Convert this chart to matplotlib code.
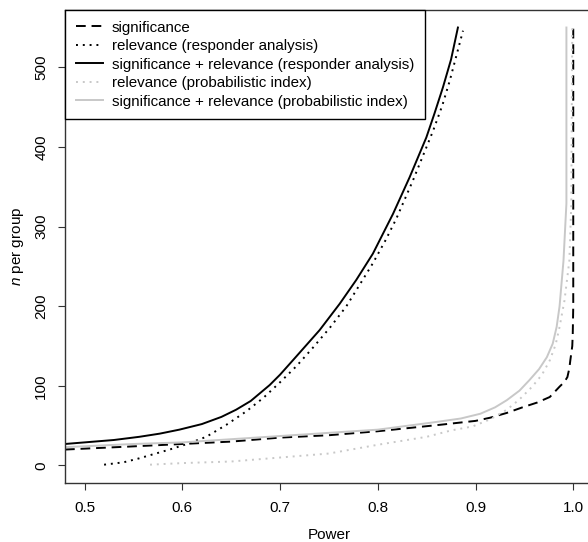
import matplotlib
matplotlib.use("Agg")
import matplotlib.pyplot as plt

plt.rcParams['font.family'] = ['Liberation Sans', 'DejaVu Sans']
plt.rcParams['mathtext.fontset'] = 'custom'
plt.rcParams['mathtext.it'] = 'Liberation Sans:italic'
plt.rcParams['mathtext.rm'] = 'Liberation Sans'

# significance
sig_x = [0.48, 0.55, 0.60, 0.65, 0.70, 0.75, 0.80, 0.863, 0.90, 0.915, 0.932, 0.948, 0.963,
         0.976, 0.986, 0.991, 0.994, 0.996, 0.997, 0.999, 0.9995, 1.0, 1.0]
sig_n = [20, 24, 27, 30, 35, 38, 43, 51, 56, 60, 66, 73, 79,
         86, 99, 105, 111, 122, 132, 150, 166, 200, 550]

# relevance (responder analysis)
rel_resp_x = [0.52, 0.54, 0.556, 0.57, 0.587, 0.605, 0.6245, 0.645, 0.6655, 0.683, 0.6996,
              0.717, 0.7337, 0.751, 0.7679, 0.782, 0.795, 0.808, 0.819, 0.836, 0.8565,
              0.866, 0.8736, 0.8872]
rel_resp_n = [1, 4, 9, 14, 20, 27, 36, 51, 68, 85, 104,
              125, 148, 173, 200, 228, 254, 283, 310, 358, 420,
              452, 483, 546]

# significance + relevance (responder analysis)
both_resp_x = [0.48, 0.50, 0.53, 0.556, 0.577, 0.597, 0.62, 0.64, 0.655, 0.67, 0.6894,
               0.70, 0.7167, 0.7405, 0.761, 0.778, 0.795, 0.8156, 0.8326, 0.8497, 0.858,
               0.8667, 0.875, 0.882]
both_resp_n = [27, 29, 32, 36, 40, 45, 52, 61, 70, 81, 101,
               114, 137, 170, 203, 233, 266, 316, 362, 412, 442,
               475, 510, 550]

# relevance (probabilistic index)
rel_prob_x = [0.567, 0.60, 0.65, 0.70, 0.75, 0.80, 0.85, 0.875, 0.897, 0.915, 0.932, 0.945,
              0.958, 0.968, 0.976, 0.982, 0.986, 0.991, 0.996, 0.998, 0.999]
rel_prob_n = [1, 3, 5, 10, 15, 26, 36, 44, 49, 58, 70, 83,
              99, 114, 132, 152, 174, 207, 257, 329, 550]

# significance + relevance (probabilistic index)
both_prob_x = [0.48, 0.55, 0.60, 0.65, 0.70, 0.75, 0.80, 0.856, 0.885, 0.905, 0.92, 0.932,
               0.945, 0.955, 0.965, 0.973, 0.979, 0.983, 0.986, 0.99, 0.993, 0.993]
both_prob_n = [23, 27, 29, 33, 37, 41, 45, 54, 59, 65, 73, 82,
               94, 107, 121, 136, 153, 174, 200, 257, 329, 550]

labels = ['significance',
          'relevance (responder analysis)',
          'significance + relevance (responder analysis)',
          'relevance (probabilistic index)',
          'significance + relevance (probabilistic index)']

grey = '#c8c8c8'

fig = plt.figure(figsize=(5.88, 5.42), dpi=100)
ax = fig.add_axes([65/588, 1-483/542, (592.8-65)/588, (483-10)/542])

lw = 1.4
ax.plot(sig_x, sig_n, color='black', lw=lw, dashes=(5, 3), label=labels[0])
ax.plot(rel_resp_x, rel_resp_n, color='black', lw=lw, dashes=(1, 2.5), label=labels[1])
ax.plot(both_resp_x, both_resp_n, color='black', lw=lw, label=labels[2])
ax.plot(rel_prob_x, rel_prob_n, color=grey, lw=lw, dashes=(1, 2.5), label=labels[3])
ax.plot(both_prob_x, both_prob_n, color=grey, lw=lw, label=labels[4])

ax.set_xlim(0.48, 1.02)
ax.set_ylim(-22, 572)
ax.set_xticks([0.5, 0.6, 0.7, 0.8, 0.9, 1.0])
ax.set_xticklabels(['0.5', '0.6', '0.7', '0.8', '0.9', '1.0'])
ax.set_yticks([0, 100, 200, 300, 400, 500])
ax.tick_params(axis='both', length=5, width=0.8, labelsize=11, color='#333333')
ax.tick_params(axis='x', pad=8)
ax.tick_params(axis='y', pad=7)
for t in ax.get_yticklabels():
    t.set_rotation(90)
    t.set_va('center')
for s in ax.spines.values():
    s.set_linewidth(1.0)
    s.set_color('#333333')

ax.set_xlabel('Power', fontsize=11, labelpad=9)
ax.set_ylabel(r'$n$ per group', fontsize=11, labelpad=6)

leg = ax.legend(loc='upper left', bbox_to_anchor=(0, 1), borderaxespad=0,
                fancybox=False, framealpha=1, edgecolor='black', fontsize=10.9,
                handlelength=1.8, handletextpad=0.6, labelspacing=0.3,
                borderpad=0.7)
leg.get_frame().set_linewidth(1.0)

fig.savefig('out.png', dpi=100)
